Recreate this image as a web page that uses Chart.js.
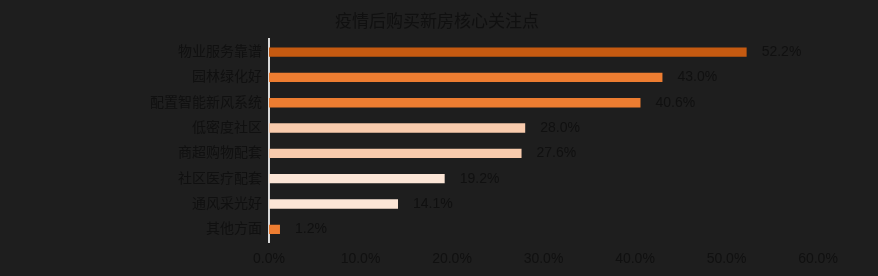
<!DOCTYPE html>
<html>
<head>
<meta charset="utf-8">
<script src="https://cdn.jsdelivr.net/npm/chart.js@4"></script>
<style>
  html, body { margin: 0; padding: 0; background: #1e1e1e; }
  #wrap { width: 878px; height: 276px; }
</style>
</head>
<body>
<div id="wrap"><canvas id="chart"></canvas></div>
<script>
// 疫情后购买新房核心关注点
var categories = ['物业服务靠谱', '园林绿化好', '配置智能新风系统', '低密度社区', '商超购物配套', '社区医疗配套', '通风采光好', '其他方面'];
var shares = [52.2, 43.0, 40.6, 28.0, 27.6, 19.2, 14.1, 1.2];
var barColors = ['#c55a11', '#ed7d31', '#ed7d31', '#f8cbad', '#f8cbad', '#fbe5d6', '#fbe5d6', '#ed7d31'];
var xTicks = [0, 10, 20, 30, 40, 50, 60];

var fontFamily = '"Liberation Sans", "Noto Sans CJK SC", sans-serif';
var textColor = '#101010';

// value labels at the end of each bar
var valueLabels = {
  id: 'valueLabels',
  afterDatasetsDraw: function(chart) {
    var ctx = chart.ctx;
    var meta = chart.getDatasetMeta(0);
    ctx.save();
    ctx.font = '14px ' + fontFamily;
    ctx.fillStyle = textColor;
    ctx.textAlign = 'left';
    ctx.textBaseline = 'middle';
    meta.data.forEach(function(bar, i) {
      ctx.fillText(shares[i].toFixed(1) + '%', bar.x + 15, bar.y);
    });
    ctx.restore();
  }
};

new Chart(document.getElementById('chart'), {
  type: 'bar',
  data: {
    labels: categories,
    datasets: [{
      data: shares,
      backgroundColor: barColors,
      categoryPercentage: 1,
      barPercentage: 0.37
    }]
  },
  options: {
    indexAxis: 'y',
    responsive: true,
    maintainAspectRatio: false,
    animation: false,
    layout: { padding: { left: 56, right: 60, top: 0, bottom: 0 } },
    plugins: {
      legend: { display: false },
      tooltip: { enabled: false },
      title: {
        display: true,
        text: '疫情后购买新房核心关注点',
        color: textColor,
        font: { family: fontFamily, size: 17, weight: 'normal' },
        padding: { top: 12, bottom: 7 }
      }
    },
    scales: {
      x: {
        min: 0,
        max: 60,
        afterBuildTicks: function(axis) {
          axis.ticks = xTicks.map(function(v) { return { value: v }; });
        },
        afterFit: function(axis) { axis.height = 34; },
        grid: { display: false, drawTicks: false },
        border: { display: false },
        ticks: {
          color: textColor,
          font: { family: fontFamily, size: 14 },
          padding: 9,
          callback: function(v) { return v.toFixed(1) + '%'; }
        }
      },
      y: {
        afterFit: function(axis) { axis.width = 213; },
        grid: { display: false, drawTicks: false },
        border: { display: true, color: '#d9d9d9', width: 2 },
        ticks: {
          color: textColor,
          font: { family: fontFamily, size: 14 },
          padding: 7
        }
      }
    }
  },
  plugins: [valueLabels]
});
</script>
</body>
</html>
